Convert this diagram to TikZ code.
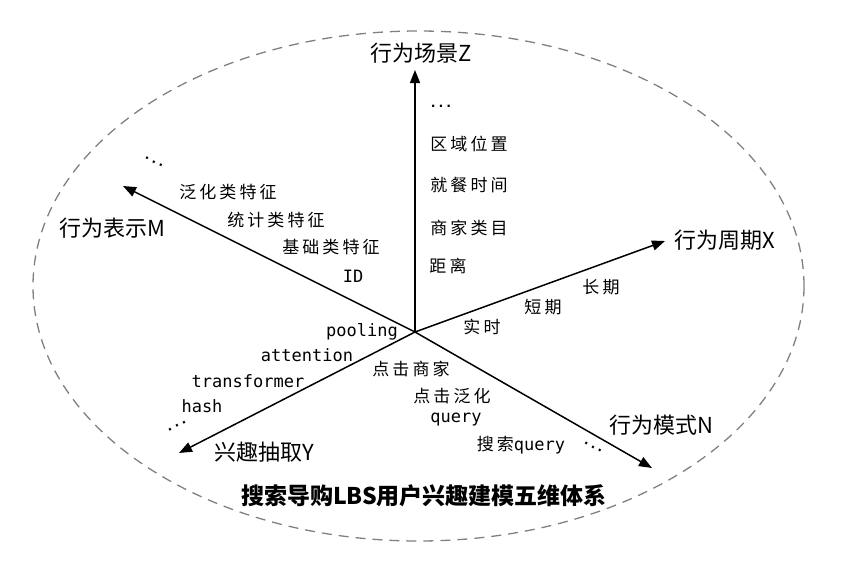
\documentclass[tikz,border=0pt]{standalone}
\usepackage{fontspec}
\setmainfont{Noto Sans CJK SC}
\newfontfamily\itemfont[LetterSpace=18]{Noto Sans CJK SC}
\newfontfamily\monofont{DejaVu Sans Mono}
\usetikzlibrary{arrows.meta}
\begin{document}
\begin{tikzpicture}[x=1pt,y=-1pt,
 axis/.style={line width=1.5pt,-{Triangle[length=13pt,width=10pt]}},
 axlabel/.style={font=\fontsize{22}{24}\selectfont, inner sep=0},
 item/.style={font=\itemfont\fontsize{17}{19}\selectfont, inner sep=0},
 mono/.style={font=\monofont\fontsize{17}{19}\selectfont, inner sep=0},
 dotsnode/.style={font=\monofont\bfseries\fontsize{13}{14}\selectfont, inner sep=0}]
\useasboundingbox (0,0) rectangle (846,570);
\draw[black!50, line width=1.3pt, dash pattern=on 10pt off 7pt] (418.5,286) ellipse [x radius=385.5pt, y radius=255pt];
% axes
\coordinate (O) at (415,332);
\coordinate (Zt) at (415,70);
\coordinate (Xt) at (665,241);
\coordinate (Mt) at (123,186);
\coordinate (Yt) at (179,453);
\coordinate (Nt) at (652,468);
\draw[axis] (O) -- (Zt);
\draw[axis] (O) -- (Xt);
\draw[axis] (O) -- (Mt);
\draw[axis] (O) -- (Yt);
\draw[axis] (O) -- (Nt);
% axis labels
\node[axlabel] (lz) at (421,53) {行为场景Z};
\node[axlabel] (lx) at (725,240) {行为周期X};
\node[axlabel] (lm) at (112,228) {行为表示M};
\node[axlabel] (ly) at (264,452) {兴趣抽取Y};
\node[axlabel] (ln) at (661,425) {行为模式N};
% Z items
\node[dotsnode] (zd) at (441,106) {...};
\node[item] (z1) at (469,144) {区域位置};
\node[item] (z2) at (469,185) {就餐时间};
\node[item] (z3) at (469,228) {商家类目};
\node[item] (z4) at (448,266) {距离};
% X items
\node[item] (x1) at (601,287) {长期};
\node[item] (x2) at (543,307) {短期};
\node[item] (x3) at (482,327) {实时};
% M items
\node[dotsnode, rotate=-27] (md) at (154,162) {...};
\node[item] (m1) at (228,192) {泛化类特征};
\node[item] (m2) at (276,220) {统计类特征};
\node[item] (m3) at (331,247) {基础类特征};
\node[mono] (m4) at (353,276) {ID};
% Y items
\node[mono] (y1) at (362,332) {pooling};
\node[mono] (y2) at (307,355) {attention};
\node[mono] (y3) at (248,381) {transformer};
\node[mono] (y4) at (202,406) {hash};
\node[dotsnode, rotate=27] (yd) at (177,426) {...};
% N items
\node[item] (n1) at (411,369) {点击商家};
\node[item] (n2) at (452,396) {点击泛化};
\node[mono] (n3) at (456,420) {query};
\node[inner sep=0] (n4) at (521,445) {{\itemfont\fontsize{17}{19}\selectfont 搜索}{\monofont\fontsize{17}{19}\selectfont query}};
\node[dotsnode, rotate=-30] (nd) at (593,447) {...};
% title
\node[font=\bfseries\fontsize{23}{25}\selectfont, inner sep=0] (title) at (424,496) {搜索导购LBS用户兴趣建模五维体系};
\end{tikzpicture}
\end{document}
